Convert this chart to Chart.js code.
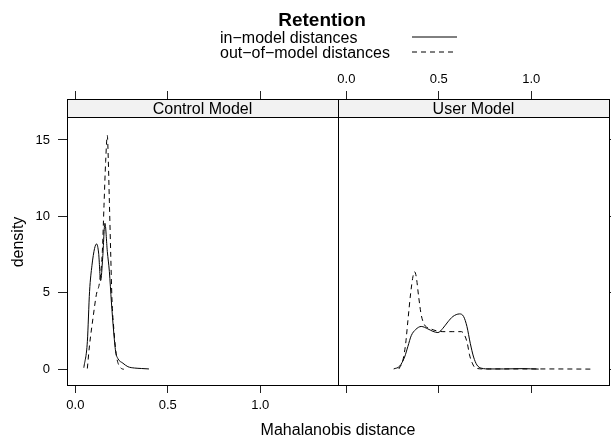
<!DOCTYPE html>
<html>
<head>
<meta charset="utf-8">
<script src="https://cdn.jsdelivr.net/npm/chart.js@4"></script>
<style>
  body { margin: 0; background: #fff; }
  canvas { position: absolute; left: 0; top: 0; }
</style>
</head>
<body>
<canvas id="controlChart" width="611" height="438"></canvas>
<canvas id="userChart" width="611" height="438"></canvas>
<script>
// values
const panelNames = ['Control Model', 'User Model'];
const seriesNames = ['in\u2212model distances', 'out\u2212of\u2212model distances'];
const legendTitle = 'Retention';
const xTitle = 'Mahalanobis distance';
const yTitle = 'density';
const xTicks = [0, 0.5, 1.0];
const yTicks = [0, 5, 10, 15];

// Control Model
const ctrlInX = [0.046, 0.065, 0.077, 0.09, 0.104, 0.115, 0.126, 0.137, 0.148, 0.16, 0.173, 0.184, 0.195, 0.207, 0.218, 0.23, 0.257, 0.284, 0.32, 0.357, 0.398];
const ctrlInY = [0.1, 1.8, 5.1, 6.8, 7.9, 8.2, 7.6, 5.8, 7.3, 9.55, 7.7, 6.4, 4.4, 2.5, 1.15, 0.7, 0.4, 0.17, 0.08, 0.05, 0.02];
const ctrlOutX = [0.065, 0.077, 0.095, 0.114, 0.131, 0.146, 0.155, 0.164, 0.173, 0.178, 0.184, 0.191, 0.198, 0.209, 0.222, 0.234, 0.249, 0.262];
const ctrlOutY = [0.05, 1.6, 3.3, 4.9, 5.7, 7.7, 10.7, 13.6, 15.3, 13.8, 11.0, 7.7, 4.6, 2.5, 0.9, 0.3, 0.05, 0.0];

// User Model
const userInX = [0.256, 0.288, 0.315, 0.333, 0.351, 0.375, 0.405, 0.441, 0.468, 0.495, 0.522, 0.549, 0.576, 0.612, 0.634, 0.652, 0.67, 0.688, 0.706, 0.73, 0.775, 0.85, 0.95, 1.04];
const userInY = [0.02, 0.2, 0.8, 1.5, 2.2, 2.6, 2.8, 2.64, 2.48, 2.4, 2.68, 3.1, 3.45, 3.62, 3.45, 2.8, 1.7, 0.8, 0.28, 0.07, 0.02, 0.02, 0.04, 0.01];
const userOutX = [0.284, 0.306, 0.321, 0.333, 0.348, 0.36, 0.369, 0.378, 0.391, 0.405, 0.423, 0.45, 0.486, 0.522, 0.576, 0.622, 0.639, 0.654, 0.666, 0.681, 0.699, 0.75, 0.9, 1.1, 1.33];
const userOutY = [0.02, 0.6, 1.7, 3.2, 5.0, 6.05, 6.38, 6.05, 4.75, 3.55, 2.9, 2.68, 2.52, 2.46, 2.46, 2.46, 2.24, 1.7, 0.94, 0.4, 0.07, 0.02, 0.02, 0.02, 0.01];

const FONT = '"Liberation Sans", Arial, Helvetica, sans-serif';
const X_MIN = -0.045, X_MAX = 1.42;
const Y_MIN = -1.03, Y_MAX = 17.68;
const STRIP_H = 18;
const TICK_COLOR = '#222';
const dashes = [[], [5, 4]];

Chart.defaults.font.family = FONT;
Chart.defaults.color = '#000';

function toPoints(xs, ys) {
  return xs.map((x, i) => ({ x: x, y: ys[i] }));
}

function makeDatasets(inX, inY, outX, outY) {
  return [toPoints(inX, inY), toPoints(outX, outY)].map((pts, i) => ({
    label: seriesNames[i],
    data: pts,
    borderColor: '#000',
    borderWidth: 1,
    borderDash: dashes[i],
    pointRadius: 0,
    fill: false,
    cubicInterpolationMode: 'monotone'
  }));
}

const fixTicks = list => scale => { scale.ticks = list.map(v => ({ value: v })); };
const tickGrid = len => ({ drawOnChartArea: false, drawTicks: true, tickLength: len, color: TICK_COLOR });

// strip + panel box
const panelFrame = {
  id: 'panelFrame',
  afterDraw(chart) {
    const { ctx, chartArea: a } = chart;
    const l = a.left + 0.5, r = a.right + 0.5, t = a.top + 0.5, b = a.bottom + 0.5;
    ctx.save();
    ctx.fillStyle = '#f2f2f2';
    ctx.fillRect(l, t, r - l, STRIP_H);
    ctx.strokeStyle = '#000';
    ctx.lineWidth = 1;
    ctx.beginPath();
    ctx.moveTo(l, t + STRIP_H);
    ctx.lineTo(r, t + STRIP_H);
    ctx.stroke();
    ctx.strokeRect(l, t, r - l, b - t);
    ctx.fillStyle = '#000';
    ctx.font = '16px ' + FONT;
    ctx.textAlign = 'center';
    ctx.textBaseline = 'alphabetic';
    ctx.fillText(chart.options.plugins.panelFrame.name, (a.left + a.right) / 2, a.top + 15);
    ctx.restore();
  }
};

// legend on top and shared x title
const keyAndTitle = {
  id: 'keyAndTitle',
  afterDraw(chart) {
    const ctx = chart.ctx;
    ctx.save();
    ctx.fillStyle = '#000';
    ctx.textBaseline = 'alphabetic';
    ctx.font = 'bold 19px ' + FONT;
    ctx.textAlign = 'center';
    ctx.fillText(legendTitle, 322, 26);
    ctx.font = '16px ' + FONT;
    ctx.textAlign = 'left';
    const rows = [42.5, 57.5];
    chart.data.datasets.forEach((ds, i) => {
      ctx.fillText(ds.label, 220, rows[i]);
      ctx.strokeStyle = ds.borderColor;
      ctx.lineWidth = 1;
      ctx.setLineDash(ds.borderDash);
      ctx.beginPath();
      ctx.moveTo(412, rows[i] - 5.5);
      ctx.lineTo(457, rows[i] - 5.5);
      ctx.stroke();
    });
    ctx.setLineDash([]);
    ctx.textAlign = 'center';
    ctx.fillText(xTitle, 338, 435);
    ctx.restore();
  }
};

// left panel
new Chart(document.getElementById('controlChart'), {
  type: 'line',
  data: { datasets: makeDatasets(ctrlInX, ctrlInY, ctrlOutX, ctrlOutY) },
  plugins: [panelFrame, keyAndTitle],
  options: {
    responsive: false,
    animation: false,
    devicePixelRatio: 1,
    layout: { padding: { left: 0, right: 611 - 338, top: 91, bottom: 0 } },
    plugins: {
      legend: { display: false },
      tooltip: { enabled: false },
      panelFrame: { name: panelNames[0] }
    },
    scales: {
      x: {
        type: 'linear', position: 'bottom', min: X_MIN, max: X_MAX,
        afterBuildTicks: fixTicks(xTicks),
        afterFit: s => { s.height = 53; },
        ticks: { font: { size: 13 }, padding: 5, maxRotation: 0, callback: v => v.toFixed(1) },
        grid: tickGrid(8),
        border: { display: false }
      },
      x2: {
        type: 'linear', position: 'top', min: X_MIN, max: X_MAX,
        afterBuildTicks: fixTicks(xTicks),
        afterFit: s => { s.height = 8; },
        ticks: { display: false },
        grid: tickGrid(8),
        border: { display: false }
      },
      y: {
        type: 'linear', position: 'left', min: Y_MIN, max: Y_MAX,
        afterBuildTicks: fixTicks(yTicks),
        afterFit: s => { s.width = 67; },
        ticks: { font: { size: 13 }, padding: 8 },
        grid: tickGrid(9),
        border: { display: false },
        title: { display: true, text: yTitle, font: { size: 16 }, padding: { top: 9, bottom: 0 } }
      }
    }
  }
});

// right panel
new Chart(document.getElementById('userChart'), {
  type: 'line',
  data: { datasets: makeDatasets(userInX, userInY, userOutX, userOutY) },
  plugins: [panelFrame],
  options: {
    responsive: false,
    animation: false,
    devicePixelRatio: 1,
    layout: { padding: { left: 338, right: 0, top: 60, bottom: 0 } },
    plugins: {
      legend: { display: false },
      tooltip: { enabled: false },
      panelFrame: { name: panelNames[1] }
    },
    scales: {
      x: {
        type: 'linear', position: 'top', min: X_MIN, max: X_MAX,
        afterBuildTicks: fixTicks(xTicks),
        afterFit: s => { s.height = 39; },
        ticks: { font: { size: 13 }, padding: 4, maxRotation: 0, callback: v => v.toFixed(1) },
        grid: tickGrid(8),
        border: { display: false }
      },
      xb: {
        type: 'linear', position: 'bottom', min: X_MIN, max: X_MAX,
        afterBuildTicks: fixTicks(xTicks),
        afterFit: s => { s.height = 53; },
        ticks: { display: false },
        grid: tickGrid(8),
        border: { display: false }
      },
      y: {
        type: 'linear', position: 'right', min: Y_MIN, max: Y_MAX,
        afterBuildTicks: fixTicks(yTicks),
        afterFit: s => { s.width = 2; },
        ticks: { display: false },
        grid: tickGrid(2),
        border: { display: false }
      }
    }
  }
});
</script>
</body>
</html>
